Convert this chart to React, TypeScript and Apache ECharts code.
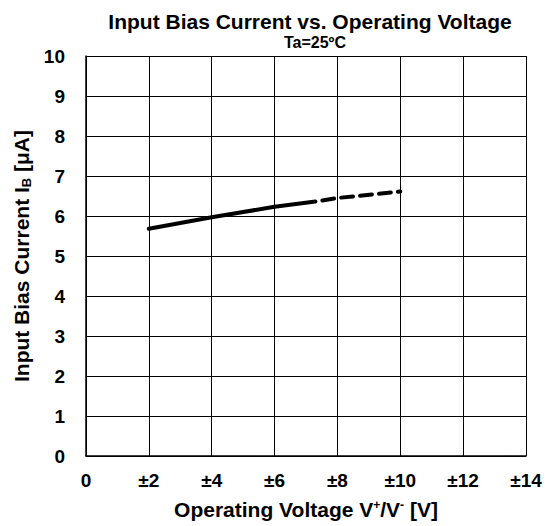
import React, { useEffect, useRef } from "react";
import * as echarts from "echarts";

const titleText = "Input Bias Current vs. Operating Voltage";
const subtitleText = "Ta=25ºC";
const xTicks = [0, 2, 4, 6, 8, 10, 12, 14];
const yTicks = [0, 1, 2, 3, 4, 5, 6, 7, 8, 9, 10];
const solidVoltage = [2, 4, 6, 7.3];
const solidCurrent = [5.68, 5.97, 6.23, 6.36];
const dashedVoltage = [7.3, 8, 10];
const dashedCurrent = [6.36, 6.45, 6.61];

const FONT = "'Liberation Sans', Arial, sans-serif";

export default function App() {
  const ref = useRef<HTMLDivElement>(null);
  useEffect(() => {
    if (!ref.current) return;
    const chart = echarts.init(ref.current, null, { renderer: "svg" });
    const solid = solidVoltage.map((v, i) => [v, solidCurrent[i]]);
    const dashed = dashedVoltage.map((v, i) => [v, dashedCurrent[i]]);
    chart.setOption({
      animation: false,
      backgroundColor: "#fff",
      title: [
        {
          text: titleText,
          left: 305,
          top: 6,
          textAlign: "center",
          textStyle: { fontFamily: FONT, fontWeight: "bold", fontSize: 21, color: "#000" },
        },
        {
          text: subtitleText,
          left: 310,
          top: 29,
          textAlign: "center",
          textStyle: { fontFamily: FONT, fontWeight: "bold", fontSize: 16, color: "#000" },
        },
      ],
      grid: { left: 86, right: 29, top: 56, bottom: 70 },
      xAxis: {
        type: "value",
        min: xTicks[0],
        max: xTicks[xTicks.length - 1],
        interval: 2,
        name: "Operating Voltage V{sup|+}/V{sup|-} [V]",
        nameLocation: "middle",
        nameGap: 43,
        nameTextStyle: {
          fontFamily: FONT,
          fontWeight: "bold",
          fontSize: 21,
          color: "#000",
          rich: {
            sup: { fontFamily: FONT, fontWeight: "bold", fontSize: 12, color: "#000", padding: [0, 0, 9, 0] },
          },
        },
        axisLine: { show: true, lineStyle: { color: "#000", width: 1.5 } },
        axisTick: { show: false },
        splitLine: { show: true, lineStyle: { color: "#000", width: 1 } },
        axisLabel: {
          margin: 15,
          fontFamily: FONT,
          fontWeight: "bold",
          fontSize: 19,
          color: "#000",
          formatter: (v: number) => (v === 0 ? "0" : "±" + v),
        },
      },
      yAxis: {
        type: "value",
        min: yTicks[0],
        max: yTicks[yTicks.length - 1],
        interval: 1,
        name: "Input Bias Current I{sub|B} [μA]",
        nameLocation: "middle",
        nameGap: 50,
        nameRotate: 90,
        nameTextStyle: {
          fontFamily: FONT,
          fontWeight: "bold",
          fontSize: 21,
          color: "#000",
          rich: {
            sub: { fontFamily: FONT, fontWeight: "bold", fontSize: 13, color: "#000", padding: [9, 0, 0, 0] },
          },
        },
        axisLine: { show: true, lineStyle: { color: "#000", width: 1.5 } },
        axisTick: { show: false },
        splitLine: { show: true, lineStyle: { color: "#000", width: 1 } },
        axisLabel: {
          margin: 21,
          fontFamily: FONT,
          fontWeight: "bold",
          fontSize: 19,
          color: "#000",
        },
      },
      series: [
        {
          type: "line",
          data: solid,
          symbol: "none",
          lineStyle: { color: "#000", width: 4, cap: "round" },
          z: 5,
        },
        {
          type: "line",
          data: dashed,
          symbol: "none",
          lineStyle: { color: "#000", width: 4, type: [12, 7], dashOffset: 12, cap: "round" },
          z: 5,
        },
      ],
    });
    return () => chart.dispose();
  }, []);
  return (
    <div
      ref={ref}
      style={{ position: "absolute", left: 0, top: 0, width: 555, height: 526 }}
    />
  );
}
